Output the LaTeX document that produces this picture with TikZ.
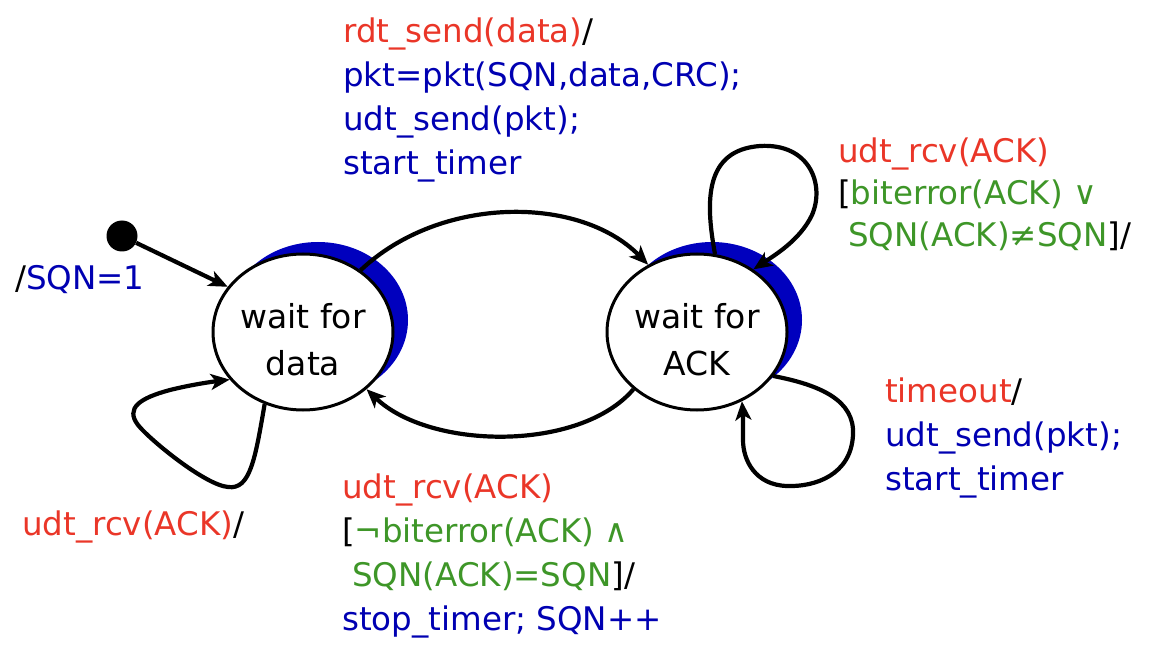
\documentclass[tikz,border=0pt]{standalone}
\usepackage{fontspec}
\setmainfont{DejaVu Sans}
\usetikzlibrary{arrows.meta,shapes.geometric,backgrounds}
\definecolor{tred}{RGB}{234,54,40}
\definecolor{tblue}{RGB}{0,0,178}
\definecolor{tgreen}{RGB}{62,150,40}
\definecolor{shblue}{RGB}{0,0,190}
\begin{document}
\begin{tikzpicture}[x=1pt,y=-1pt,
  state/.style={ellipse,draw,line width=3pt,fill=white,inner sep=0pt,
    minimum width=180pt,minimum height=156pt,align=center,
    text height=86pt,text depth=0pt,
    font=\fontsize{33}{47}\selectfont},
  trans/.style={line width=4.2pt,-{Stealth[length=19pt,width=16pt,inset=5pt]}},
  lbl/.style={anchor=base west,inner sep=0pt,align=left,
    font=\fontsize{32.5}{44}\selectfont}]
\useasboundingbox (0,0) rectangle (1156,660);
\node[state] (wd) at (303,332) {wait for\\data};
\node[state] (wa) at (697,332) {wait for\\ACK};
\begin{scope}[on background layer]
  \fill[shblue] ([shift={(15,-12)}]wd.center) ellipse [x radius=90, y radius=78];
  \fill[shblue] ([shift={(15,-12)}]wa.center) ellipse [x radius=90, y radius=78];
\end{scope}
\node[circle,fill=black,inner sep=0pt,minimum size=31pt] (init) at (122,236) {};
\draw[trans] (init) -- (wd.149);
\draw[trans] (wd.47) .. controls (440,195) and (580,195) .. (wa.126);
\draw[trans] (wa.-138) .. controls (580,452) and (430,450) .. (wd.-42);
\draw[trans] (wd.-118) .. controls (255,460) and (250,490) .. (228,487)
  .. controls (205,485) and (150,440) .. (138,425)
  .. controls (125,408) and (140,398) .. (170,390)
  .. controls (190,385) and (210,382) .. (wd.-147);
\draw[trans] (wa.77) .. controls (705,200) and (705,150) .. (760,146)
  .. controls (810,143) and (825,185) .. (812,215)
  .. controls (800,240) and (775,255) .. (wa.48);
\draw[trans] (wa.-30) .. controls (820,385) and (855,400) .. (853,435)
  .. controls (851,475) and (815,487) .. (787,486)
  .. controls (755,485) and (743,460) .. (743,440)
  .. controls (743,425) and (743,415) .. (wa.-57);
\node[lbl] (l1) at (343,175) {\textcolor{tred}{rdt\_send(data)}/\\
  \textcolor{tblue}{pkt=pkt(SQN,data,CRC);}\\
  \textcolor{tblue}{udt\_send(pkt);}\\
  \textcolor{tblue}{start\_timer}};
\node[lbl,font=\fontsize{32.5}{42}\selectfont] (l2) at (838,247) {\textcolor{tred}{udt\_rcv(ACK)}\\
  {[}\textcolor{tgreen}{biterror(ACK) ∨}\\
  \hspace*{10pt}\textcolor{tgreen}{SQN(ACK)≠SQN}]/};
\node[lbl] (l3) at (15,290) {/\textcolor{tblue}{SQN=1}};
\node[lbl] (l4) at (885,490) {\textcolor{tred}{timeout}/\\
  \textcolor{tblue}{udt\_send(pkt);}\\
  \textcolor{tblue}{start\_timer}};
\node[lbl] (l5) at (22,535) {\textcolor{tred}{udt\_rcv(ACK)}/};
\node[lbl] (l6) at (342,630) {\textcolor{tred}{udt\_rcv(ACK)}\\
  {[}\textcolor{tgreen}{¬biterror(ACK) ∧}\\
  \hspace*{10pt}\textcolor{tgreen}{SQN(ACK)=SQN}]/\\
  \textcolor{tblue}{stop\_timer; SQN++}};
\end{tikzpicture}
\end{document}
